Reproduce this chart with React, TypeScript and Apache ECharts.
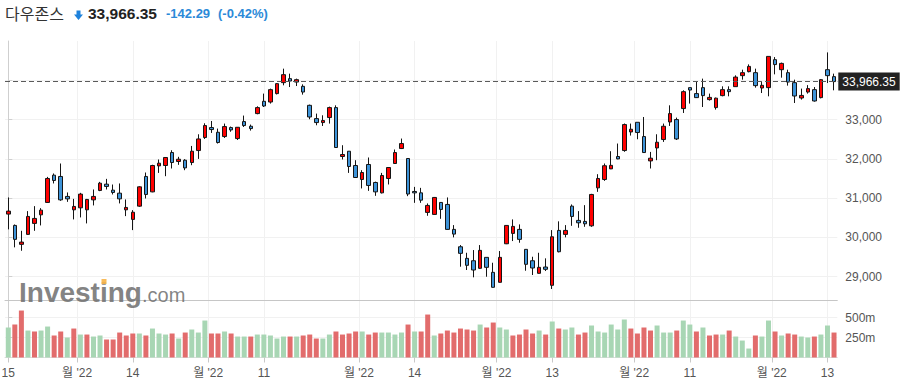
import React, { useEffect, useRef } from "react";
import * as echarts from "echarts";

// Dow Jones daily, Jun 15 2022 .. Dec 14 2022 (index = trading day)
const open = [
  30594, 30306, 29824, 30078, 30357, 30576, 30891, 31585, 31552, 31044,
  30703, 30754, 30703, 30957, 31196, 31356, 31204, 31127, 30703, 30459,
  30797, 31552, 31160, 31821, 31831, 32161, 31933, 31966, 31907, 32212,
  32543, 32797, 32677, 32568, 32797, 32517, 32949, 32830, 33152, 33465,
  33447, 33661, 33940, 34042, 33955, 33846, 33363, 33025, 32924, 33051,
  33305, 32060, 32195, 31831, 31475, 31857, 31399, 31135, 31501, 31882,
  32263, 32009, 31170, 31135, 30637, 30586, 30891, 30840, 30205, 29763,
  29468, 29407, 29214, 29493, 29112, 28858, 29839, 30103, 30205, 29697,
  29407, 29087, 29247, 28782, 30179, 30078, 30797, 30434, 30408, 30296,
  31262, 31475, 31745, 32060, 32212, 32685, 32931, 32568, 31948, 32278,
  32492, 32939, 33000, 33280, 33813, 33661, 33813, 33508, 33305, 33610,
  33762, 33838, 34118, 34220, 34194, 33803, 33813, 34525, 34270, 34194,
  33940, 33549, 33701, 33762, 33559, 34270, 34093,
];
const close = [
  30670, 29951, 29882, 30535, 30484, 30695, 31501, 31450, 30957, 30982,
  30789, 31103, 30967, 31044, 31381, 31298, 31145, 30982, 30764, 30642,
  31288, 31094, 31831, 31890, 32035, 31907, 31991, 31770, 32195, 32507,
  32848, 32746, 32416, 32822, 32736, 32804, 32848, 32771, 33305, 33346,
  33762, 33915, 34143, 33981, 34016, 33701, 33066, 32924, 32975, 33305,
  32289, 32111, 31806, 31526, 31653, 31323, 31160, 31577, 31780, 32161,
  32390, 31105, 31135, 30949, 30815, 31018, 30713, 30205, 30085, 29595,
  29290, 29171, 29671, 29239, 28731, 29493, 30306, 30281, 29951, 29316,
  29222, 29239, 29189, 30017, 29636, 30179, 30535, 30373, 30347, 31094,
  31501, 31825, 31835, 31999, 32873, 32754, 32670, 32161, 32017, 32423,
  32830, 33152, 32507, 33711, 33752, 33559, 33610, 33565, 33545, 33762,
  33711, 34082, 34194, 34354, 33864, 33872, 34608, 34400, 34430, 33955,
  33600, 33615, 33788, 33473, 34016, 34118, 33966.35,
];
const high = [
  31018, 30330, 30169, 30670, 30797, 30746, 31541, 31628, 31882, 31145,
  30982, 31135, 30980, 31221, 31414, 31491, 31347, 31374, 30967, 30695,
  31305, 31653, 31850, 31984, 32040, 32220, 32052, 31992, 32329, 32626,
  32906, 32964, 32771, 32898, 32822, 32810, 33102, 32873, 33338, 33661,
  33788, 33930, 34296, 34169, 34042, 33897, 33381, 33152, 33109, 33330,
  33363, 32347, 32200, 31966, 31712, 32035, 31420, 31643, 31790, 32238,
  32517, 32020, 31287, 31262, 30866, 31030, 30900, 31018, 30314, 29806,
  29610, 29679, 29806, 29493, 29356, 29654, 30310, 30459, 30332, 29700,
  29509, 29610, 29468, 30187, 30410, 30314, 30840, 30670, 30822, 31110,
  31610, 31882, 32195, 32390, 32900, 32898, 32931, 33066, 32177, 32626,
  32898, 33363, 33050, 33745, 33813, 33966, 34042, 33661, 33560, 33846,
  33846, 34126, 34270, 34405, 34296, 33955, 34608, 34591, 34450, 34270,
  34016, 33788, 33877, 33828, 34030, 34710, 34169,
];
const low = [
  30205, 29748, 29661, 30070, 30169, 30306, 30880, 31374, 30932, 30906,
  30459, 30510, 30357, 30815, 31178, 31221, 31094, 30866, 30543, 30187,
  30779, 30992, 31150, 31643, 31559, 31755, 31848, 31712, 31839, 31999,
  32507, 32660, 32390, 32532, 32690, 32480, 32812, 32720, 33135, 33320,
  33407, 33640, 33872, 33828, 33854, 33635, 33008, 32855, 32837, 32898,
  32280, 31984, 31643, 31520, 31247, 31186, 31059, 31120, 31348, 31870,
  32250, 31051, 30881, 30881, 30551, 30580, 30474, 30200, 30002, 29255,
  29171, 28985, 29200, 29000, 28725, 28850, 29830, 29908, 29865, 29153,
  29044, 29080, 29145, 28688, 29620, 30002, 30296, 30246, 30271, 30270,
  31160, 31440, 31740, 31990, 32180, 32593, 32499, 32150, 31755, 31966,
  32431, 32838, 32480, 33168, 33407, 33550, 33320, 33483, 33254, 33592,
  33592, 33838, 34016, 34202, 33813, 33676, 33592, 34151, 34067, 33864,
  33422, 33508, 33661, 33457, 33540, 33930, 33745,
];
// volume in millions
const volume = [
  375, 412, 587, 337, 325, 337, 387, 275, 325, 250,
  362, 287, 287, 262, 275, 225, 225, 312, 275, 300,
  300, 275, 362, 300, 287, 300, 237, 312, 350, 312,
  462, 300, 300, 325, 300, 262, 262, 262, 287, 287,
  275, 237, 262, 262, 262, 275, 287, 237, 237, 287,
  325, 287, 300, 325, 325, 287, 312, 312, 312, 287,
  312, 412, 325, 325, 537, 275, 300, 337, 312, 362,
  350, 337, 412, 375, 437, 375, 350, 275, 287, 350,
  300, 337, 287, 450, 362, 350, 375, 287, 312, 400,
  325, 312, 412, 350, 475, 362, 300, 375, 337, 400,
  312, 312, 337, 462, 412, 325, 375, 275, 287, 287,
  337, 262, 212, 112, 275, 262, 462, 325, 275, 300,
  287, 262, 250, 262, 287, 400, 312,
];
const lastPrice = 33966.35;
const changeText = "-142.29";
const changePctText = "(-0.42%)";
const indexName = "다우존스";

// x-axis tick positions (in trading-day index space) and their labels
const xTickPos = [0, 10.5, 19, 30.5, 39, 53.5, 62, 74.5, 83, 95.5, 104, 116.5, 125];
const xTickLabels = ["15", "월 '22", "14", "월 '22", "11", "월 '22", "14", "월 '22", "13", "월 '22", "11", "월 '22", "13"];
const priceLabelTicks = [29000, 30000, 31000, 32000, 33000];
const priceGridTicks = [29000, 30000, 31000, 32000, 33000, 34000];
const volumeTicks = [250, 500];

const UP = "#ff0000";
const DOWN = "#3d93d8";
const VOL_UP = "#a8d6b4";
const VOL_DOWN = "#e26c6c";
const NUM_FONT = "'Liberation Sans', 'Noto Sans CJK KR', sans-serif";

export default function App() {
  const ref = useRef<HTMLDivElement>(null);

  useEffect(() => {
    document.body.style.margin = "0";
    if (!ref.current) return;
    const chart = echarts.init(ref.current, null, { renderer: "svg" });

    const candleData = close.map((c, i) => [i, open[i], c, low[i], high[i]]);
    const volUp = close.map((c, i) => c >= (i ? close[i - 1] : open[0]));
    const volData = volume.map((v, i) => [i, v]);

    const fmt = (v: number) => v.toLocaleString("en-US");

    const gridCommon = { left: 5, right: 63.7, outerBoundsMode: "none", containLabel: false };

    const option: any = {
      animation: false,
      backgroundColor: "#ffffff",
      grid: [
        { ...gridCommon, top: 41, height: 259.7 },
        { ...gridCommon, top: 300.7, height: 56.8 },
      ],
      xAxis: [
        {
          type: "value",
          gridIndex: 0,
          min: -0.5,
          max: 126.5,
          axisLine: { show: true, lineStyle: { color: "#c6c6c6", width: 1 } },
          axisTick: { show: false, customValues: xTickPos },
          axisLabel: { show: false },
          splitLine: { show: true, lineStyle: { color: "#f1f1f1", width: 1 } },
        },
        {
          type: "value",
          gridIndex: 1,
          min: -0.5,
          max: 126.5,
          axisLine: { show: true, lineStyle: { color: "#dedede", width: 1 } },
          axisTick: { show: true, length: 5, customValues: xTickPos, lineStyle: { color: "#c8c8c8" } },
          axisLabel: {
            show: true,
            customValues: xTickPos,
            margin: 9,
            color: "#555",
            fontSize: 12,
            fontFamily: NUM_FONT,
            formatter: (v: number) => {
              const k = xTickPos.findIndex((p) => Math.abs(p - v) < 1e-6);
              return k >= 0 ? xTickLabels[k] : "";
            },
          },
          splitLine: { show: true, lineStyle: { color: "#f1f1f1", width: 1 } },
        },
      ],
      yAxis: [
        {
          type: "value",
          gridIndex: 0,
          position: "right",
          min: 28390,
          max: 35000,
          axisLine: { show: true, lineStyle: { color: "#cfcfcf" } },
          axisTick: { show: true, length: 4, customValues: priceGridTicks, lineStyle: { color: "#cfcfcf" } },
          axisLabel: {
            show: true,
            customValues: priceLabelTicks,
            margin: 8,
            color: "#555",
            fontSize: 12,
            fontFamily: NUM_FONT,
            formatter: (v: number) => fmt(v),
          },
          splitLine: { show: true, lineStyle: { color: "#f1f1f1" } },
        },
        {
          type: "value",
          gridIndex: 1,
          position: "right",
          min: 0,
          max: 710,
          axisLine: { show: true, lineStyle: { color: "#cfcfcf" } },
          axisTick: { show: true, length: 4, customValues: volumeTicks, lineStyle: { color: "#cfcfcf" } },
          axisLabel: {
            show: true,
            customValues: volumeTicks,
            margin: 8,
            color: "#555",
            fontSize: 12,
            fontFamily: NUM_FONT,
            formatter: (v: number) => v + "m",
          },
          splitLine: { show: true, lineStyle: { color: "#f1f1f1" } },
        },
      ],
      series: [
        {
          type: "candlestick",
          xAxisIndex: 0,
          yAxisIndex: 0,
          data: candleData,
          barWidth: 4,
          itemStyle: {
            color: UP,
            color0: DOWN,
            borderColor: "#151515",
            borderColor0: "#151515",
            borderWidth: 1,
          },
          markLine: {
            silent: true,
            symbol: ["none", "none"],
            data: [{ yAxis: lastPrice }],
            lineStyle: { color: "#5a5a5a", type: [5, 3], width: 1 },
            label: {
              show: true,
              position: "end",
              distance: 1,
              formatter: () => fmt(lastPrice),
              backgroundColor: "#222222",
              color: "#ffffff",
              fontSize: 12,
              fontFamily: NUM_FONT,
              padding: [3, 4, 3, 4],
            },
          },
        },
        {
          type: "bar",
          xAxisIndex: 1,
          yAxisIndex: 1,
          data: volData,
          barWidth: 5,
          itemStyle: {
            color: (p: any) => (volUp[p.dataIndex] ? VOL_UP : VOL_DOWN),
          },
        },
      ],
      graphic: [
        {
          type: "text",
          left: 5,
          top: 5,
          style: { text: indexName, fill: "#333", font: "16px 'Noto Sans CJK KR', sans-serif" },
        },
        {
          type: "polygon",
          shape: {
            points: [
              [76.5, 10.5], [80.5, 10.5], [80.5, 14.5], [83, 14.5],
              [78.5, 20], [74, 14.5], [76.5, 14.5],
            ],
          },
          style: { fill: "#1e82dc" },
        },
        {
          type: "text",
          x: 88,
          y: 13,
          style: {
            text: fmt(lastPrice),
            fill: "#222",
            font: "bold 15.5px " + NUM_FONT,
            verticalAlign: "middle",
          },
        },
        {
          type: "text",
          x: 166,
          y: 13,
          style: { text: changeText, fill: "#2b8ad8", font: "bold 13px " + NUM_FONT, verticalAlign: "middle" },
        },
        {
          type: "text",
          x: 218,
          y: 13,
          style: { text: changePctText, fill: "#2b8ad8", font: "bold 13px " + NUM_FONT, verticalAlign: "middle" },
        },
        {
          type: "text",
          x: 19,
          y: 292,
          z: 100,
          style: {
            text: "Investing",
            fill: "rgba(110,110,110,0.85)",
            font: "bold 28px 'Liberation Sans', sans-serif",
            verticalAlign: "middle",
          },
        },
        {
          type: "rect",
          z: 101,
          shape: { x: 101.5, y: 279, width: 5, height: 5 },
          style: { fill: "rgba(247,180,72,0.9)" },
        },
        {
          type: "text",
          x: 142,
          y: 295,
          z: 100,
          style: {
            text: ".com",
            fill: "rgba(110,110,110,0.85)",
            font: "20px 'Liberation Sans', sans-serif",
            verticalAlign: "middle",
          },
        },
      ],
    };

    chart.setOption(option);
    return () => chart.dispose();
  }, []);

  return (
    <div
      ref={ref}
      style={{ position: "absolute", left: 0, top: 0, width: 901, height: 383, background: "#fff" }}
    />
  );
}
